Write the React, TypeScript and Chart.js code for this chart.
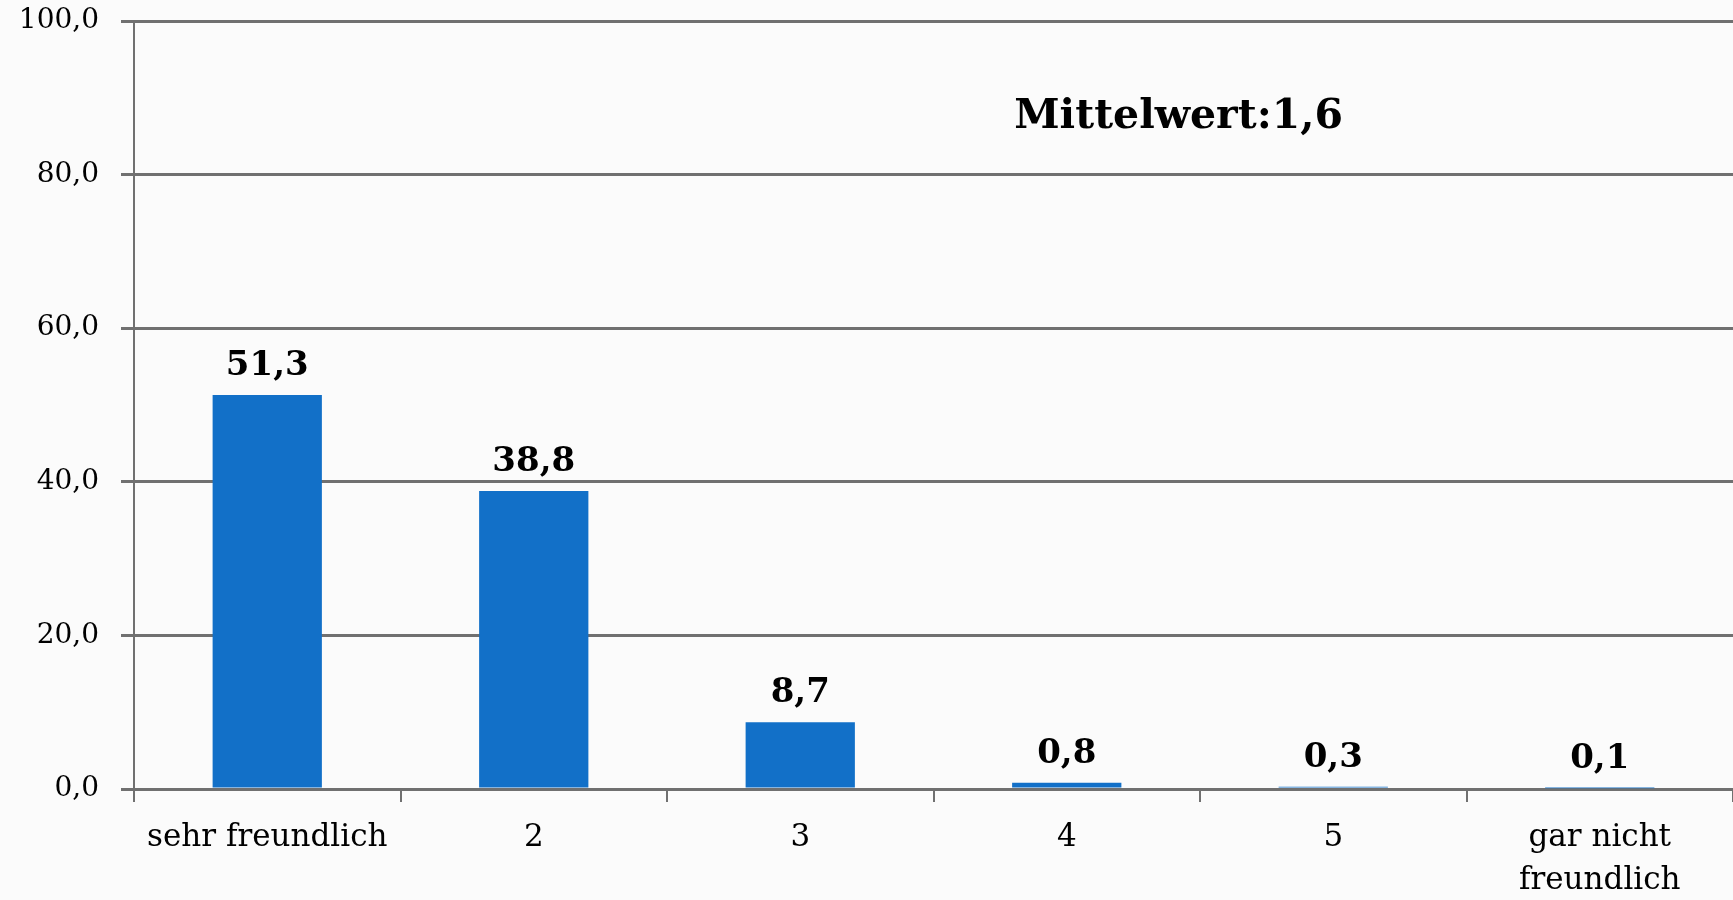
import React, { useEffect, useRef } from "react";
import { Chart, registerables } from "chart.js";

Chart.register(...registerables);

const categories: (string | string[])[] = ["sehr freundlich", "2", "3", "4", "5", ["gar nicht", "freundlich"]];
const values: number[] = [51.3, 38.8, 8.7, 0.8, 0.3, 0.1];
const yTicks: number[] = [0, 20, 40, 60, 80, 100];
const meanLabel = "Mittelwert:1,6";

const fmt = (v: number) => v.toFixed(1).replace(".", ",");

const labelPlugin = {
  id: "valueLabels",
  beforeDraw(chart: any) {
    const ctx = chart.ctx;
    ctx.save();
    ctx.fillStyle = "#fbfbfb";
    ctx.fillRect(0, 0, chart.width, chart.height);
    ctx.restore();
  },
  afterDatasetsDraw(chart: any) {
    const ctx = chart.ctx;
    const meta = chart.getDatasetMeta(0);
    ctx.save();
    ctx.fillStyle = "#000";
    ctx.textAlign = "center";
    ctx.textBaseline = "alphabetic";
    ctx.font = "bold 34px 'DejaVu Serif'";
    meta.data.forEach((bar: any, i: number) => {
      ctx.fillText(fmt(values[i]), bar.x, bar.y - 20);
    });
    const xs = chart.scales.x;
    const ys = chart.scales.y;
    ctx.font = "bold 41px 'DejaVu Serif'";
    ctx.textBaseline = "middle";
    ctx.fillText(meanLabel, xs.getPixelForValue(3.42), ys.getPixelForValue(87.4));
    ctx.restore();
  },
};

export default function App() {
  const ref = useRef<HTMLCanvasElement | null>(null);
  useEffect(() => {
    if (!ref.current) return;
    const chart = new Chart(ref.current, {
      type: "bar",
      data: {
        labels: categories,
        datasets: [
          {
            data: values,
            backgroundColor: "#1270c8",
            categoryPercentage: 1,
            barPercentage: 0.41,
          },
        ],
      },
      options: {
        responsive: false,
        animation: false,
        layout: { padding: { top: 0, right: 0, left: 0, bottom: 0 } },
        plugins: { legend: { display: false }, tooltip: { enabled: false } },
        scales: {
          x: {
            afterFit(scale: any) {
              scale.height = 111;
            },
            grid: {
              drawOnChartArea: false,
              drawTicks: true,
              tickLength: 13,
              color: "#707070",
              lineWidth: 2,
            },
            border: { display: true, color: "#707070", width: 3 },
            ticks: {
              color: "#000",
              font: { family: "'DejaVu Serif'", size: 31, lineHeight: 1.4 },
              padding: 14,
              maxRotation: 0,
              autoSkip: false,
            },
          },
          y: {
            min: 0,
            max: 100,
            afterFit(scale: any) {
              scale.width = 134;
              scale.paddingTop = 21;
              scale.paddingBottom = 0;
            },
            afterBuildTicks(scale: any) {
              scale.ticks = yTicks.map((v) => ({ value: v }));
            },
            grid: {
              color: "#707070",
              lineWidth: 3,
              tickLength: 13,
            },
            border: { display: true, color: "#707070", width: 2 },
            ticks: {
              color: "#000",
              font: { family: "'DejaVu Serif'", size: 28 },
              padding: 22,
              callback: (v: any) => fmt(Number(v)),
            },
          },
        },
      },
      plugins: [labelPlugin],
    });
    return () => chart.destroy();
  }, []);
  return (
    <div style={{ position: "absolute", left: 0, top: 0, width: 1733, height: 900 }}>
      <canvas ref={ref} width={1733} height={900} />
    </div>
  );
}
